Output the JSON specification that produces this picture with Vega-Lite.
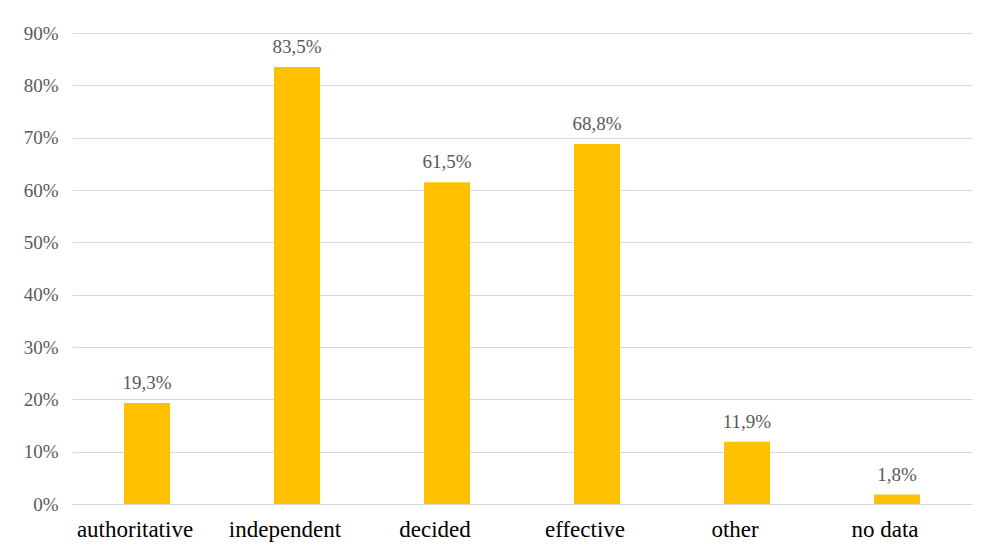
{
  "$schema": "https://vega.github.io/schema/vega-lite/v6.json",
  "autosize": "none",
  "width": 900,
  "height": 471,
  "padding": {"left": 72, "top": 33, "right": 9, "bottom": 41},
  "background": "white",
  "config": {
    "view": {"stroke": null},
    "locale": {"number": {"decimal": ",", "thousands": " ", "grouping": [3], "currency": ["", ""]}},
    "font": "Liberation Serif"
  },
  "data": {
    "values": [
      {"category": "authoritative", "share": 0.193},
      {"category": "independent", "share": 0.835},
      {"category": "decided", "share": 0.615},
      {"category": "effective", "share": 0.688},
      {"category": "other", "share": 0.119},
      {"category": "no data", "share": 0.018}
    ]
  },
  "encoding": {
    "x": {
      "field": "category",
      "type": "nominal",
      "sort": null,
      "scale": {"paddingInner": 0.693, "paddingOuter": 0.3465},
      "axis": {
        "title": null,
        "labelAngle": 0,
        "labelFont": "Liberation Serif",
        "labelFontSize": 23,
        "labelColor": "#000000",
        "labelBaseline": "alphabetic",
        "labelPadding": 32,
        "labelOffset": -12,
        "ticks": false,
        "domain": true,
        "domainColor": "#d9d9d9",
        "domainWidth": 1
      }
    },
    "y": {
      "field": "share",
      "type": "quantitative",
      "scale": {"domain": [0, 0.9], "nice": false},
      "axis": {
        "title": null,
        "format": ".0%",
        "values": [0, 0.1, 0.2, 0.3, 0.4, 0.5, 0.6, 0.7, 0.8, 0.9],
        "labelFont": "Liberation Serif",
        "labelFontSize": 19,
        "labelColor": "#595959",
        "labelPadding": 14,
        "ticks": false,
        "domain": false,
        "gridColor": "#d9d9d9",
        "gridWidth": 1
      }
    }
  },
  "layer": [
    {"mark": {"type": "bar", "color": "#FFC000"}},
    {
      "mark": {"type": "text", "baseline": "alphabetic", "dy": -14, "font": "Liberation Serif", "fontSize": 19, "color": "#595959"},
      "encoding": {"text": {"field": "share", "type": "quantitative", "format": ".1%"}}
    }
  ]
}
